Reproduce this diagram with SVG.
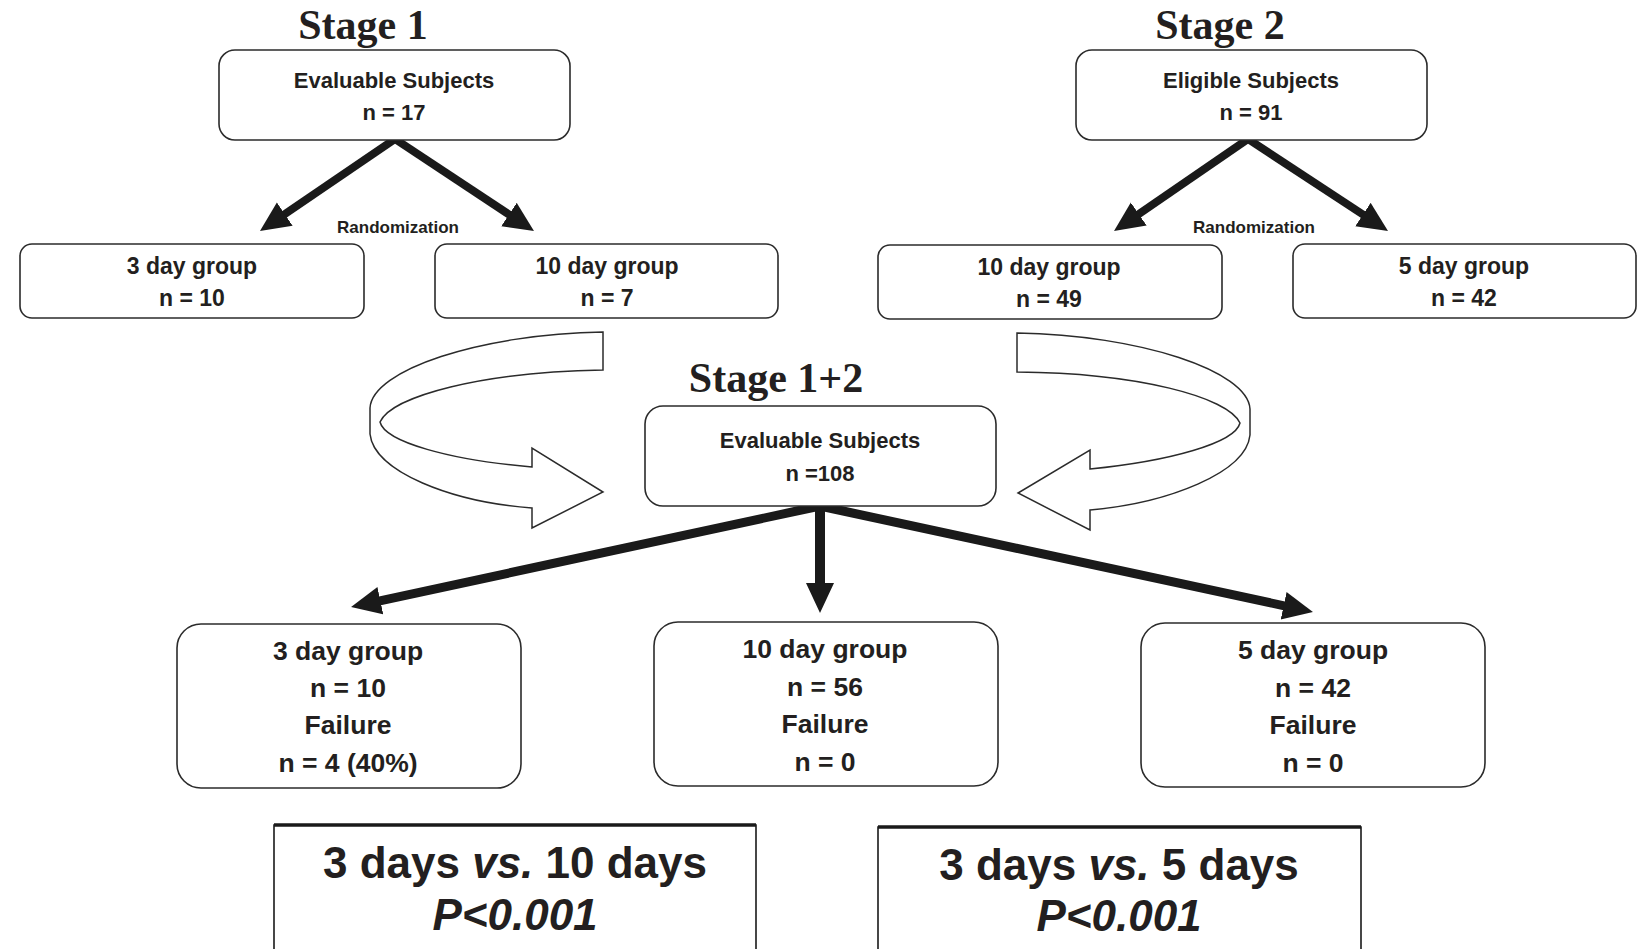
<svg xmlns="http://www.w3.org/2000/svg" width="1640" height="949" viewBox="0 0 1640 949">
<style>
.bg{fill:#ffffff}
.box{fill:#ffffff;stroke:#2b2b2b;stroke-width:1.6}
.stage{font-family:"Liberation Serif",serif;font-weight:bold;font-size:42px;fill:#231f20;text-anchor:middle}
.t1{font-family:"Liberation Sans",Arial,sans-serif;font-weight:bold;font-size:22px;fill:#231f20;text-anchor:middle}
.t2{font-family:"Liberation Sans",Arial,sans-serif;font-weight:bold;font-size:23px;fill:#231f20;text-anchor:middle}
.t3{font-family:"Liberation Sans",Arial,sans-serif;font-weight:bold;font-size:26.5px;fill:#231f20;text-anchor:middle}
.rnd{font-family:"Liberation Sans",Arial,sans-serif;font-weight:bold;font-size:17px;fill:#231f20;text-anchor:middle}
.cmp{font-family:"Liberation Sans",Arial,sans-serif;font-weight:bold;font-size:44px;fill:#231f20;text-anchor:middle}
.conn{stroke:#1a1a1a;fill:none;marker-end:url(#ah)}
.curl{fill:#ffffff;stroke:#2b2b2b;stroke-width:1.5;stroke-linejoin:miter}
</style>
<defs>
<marker id="ah" markerUnits="userSpaceOnUse" markerWidth="32" markerHeight="30" refX="10" refY="14" orient="auto">
<path d="M0,0 L30,14 L0,28 Z" fill="#1a1a1a"/>
</marker>
</defs>
<rect class="bg" x="0" y="0" width="1640" height="949"/>

<text class="stage" x="363" y="39">Stage 1</text>
<text class="stage" x="1220" y="39">Stage 2</text>
<text class="stage" x="776" y="392">Stage 1+2</text>

<g id="connectors">
<line class="conn" stroke-width="8" x1="395" y1="139" x2="276.5" y2="219.7"/>
<line class="conn" stroke-width="8" x1="395" y1="139" x2="517.3" y2="220"/>
<line class="conn" stroke-width="8" x1="1248" y1="139" x2="1130.5" y2="219.7"/>
<line class="conn" stroke-width="8" x1="1248" y1="139" x2="1371.3" y2="220"/>
<line class="conn" stroke-width="9" x1="820" y1="506" x2="370.6" y2="602.8"/>
<line class="conn" stroke-width="10" x1="820" y1="506" x2="820" y2="593"/>
<line class="conn" stroke-width="9" x1="820" y1="506" x2="1293.4" y2="607.8"/>
<path id="curl-left" class="curl" d="M603,332 C480,334 372,370 370,408 L370,434 C374,472 452,502 532,508 L532,528 L603,492 L532,448 L532,467 C450,460 385,442 380,422 C392,396 482,372 603,370 Z"/>
<path id="curl-right" class="curl" d="M1017,333 C1140,335 1248,371 1250,409 L1250,435 C1246,473 1168,503 1090,510 L1090,530 L1018,493 L1090,450 L1090,469 C1170,461 1235,443 1240,423 C1228,397 1138,373 1017,372 Z"/>
</g>

<g id="s1-eval">
<rect class="box" x="219" y="50" width="351" height="90" rx="16"/>
<text class="t1" x="394" y="88">Evaluable Subjects</text>
<text class="t1" x="394" y="120">n = 17</text>
</g>
<text class="rnd" x="398" y="233">Randomization</text>
<g id="s1-3day">
<rect class="box" x="20" y="244" width="344" height="74" rx="12"/>
<text class="t2" x="192" y="274">3 day group</text>
<text class="t2" x="192" y="306">n = 10</text>
</g>
<g id="s1-10day">
<rect class="box" x="435" y="244" width="343" height="74" rx="12"/>
<text class="t2" x="607" y="274">10 day group</text>
<text class="t2" x="607" y="306">n = 7</text>
</g>

<g id="s2-elig">
<rect class="box" x="1076" y="50" width="351" height="90" rx="16"/>
<text class="t1" x="1251" y="88">Eligible Subjects</text>
<text class="t1" x="1251" y="120">n = 91</text>
</g>
<text class="rnd" x="1254" y="233">Randomization</text>
<g id="s2-10day">
<rect class="box" x="878" y="245" width="344" height="74" rx="12"/>
<text class="t2" x="1049" y="275">10 day group</text>
<text class="t2" x="1049" y="307">n = 49</text>
</g>
<g id="s2-5day">
<rect class="box" x="1293" y="244" width="343" height="74" rx="12"/>
<text class="t2" x="1464" y="274">5 day group</text>
<text class="t2" x="1464" y="306">n = 42</text>
</g>

<g id="s12-eval">
<rect class="box" x="645" y="406" width="351" height="100" rx="18"/>
<text class="t1" x="820" y="448">Evaluable Subjects</text>
<text class="t1" x="820" y="481">n =108</text>
</g>

<g id="b-3day">
<rect class="box" x="177" y="624" width="344" height="164" rx="24"/>
<text class="t3" x="348" y="660">3 day group</text>
<text class="t3" x="348" y="697">n = 10</text>
<text class="t3" x="348" y="734">Failure</text>
<text class="t3" x="348" y="772">n = 4 (40%)</text>
</g>
<g id="b-10day">
<rect class="box" x="654" y="622" width="344" height="164" rx="24"/>
<text class="t3" x="825" y="658">10 day group</text>
<text class="t3" x="825" y="696">n = 56</text>
<text class="t3" x="825" y="733">Failure</text>
<text class="t3" x="825" y="771">n = 0</text>
</g>
<g id="b-5day">
<rect class="box" x="1141" y="623" width="344" height="164" rx="24"/>
<text class="t3" x="1313" y="659">5 day group</text>
<text class="t3" x="1313" y="697">n = 42</text>
<text class="t3" x="1313" y="734">Failure</text>
<text class="t3" x="1313" y="772">n = 0</text>
</g>

<g id="cmp-left">
<path d="M274,960 L274,825 L756,825 L756,960" fill="#ffffff" stroke="#1a1a1a" stroke-width="1.6"/>
<line x1="274" y1="825" x2="756" y2="825" stroke="#1a1a1a" stroke-width="3.5"/>
<text class="cmp" x="515" y="878">3 days <tspan font-style="italic">vs.</tspan> 10 days</text>
<text class="cmp" x="515" y="930" font-style="italic">P&lt;0.001</text>
</g>
<g id="cmp-right">
<path d="M878,960 L878,827 L1361,827 L1361,960" fill="#ffffff" stroke="#1a1a1a" stroke-width="1.6"/>
<line x1="878" y1="827" x2="1361" y2="827" stroke="#1a1a1a" stroke-width="3.5"/>
<text class="cmp" x="1119" y="880">3 days <tspan font-style="italic">vs.</tspan> 5 days</text>
<text class="cmp" x="1119" y="931" font-style="italic">P&lt;0.001</text>
</g>
</svg>
